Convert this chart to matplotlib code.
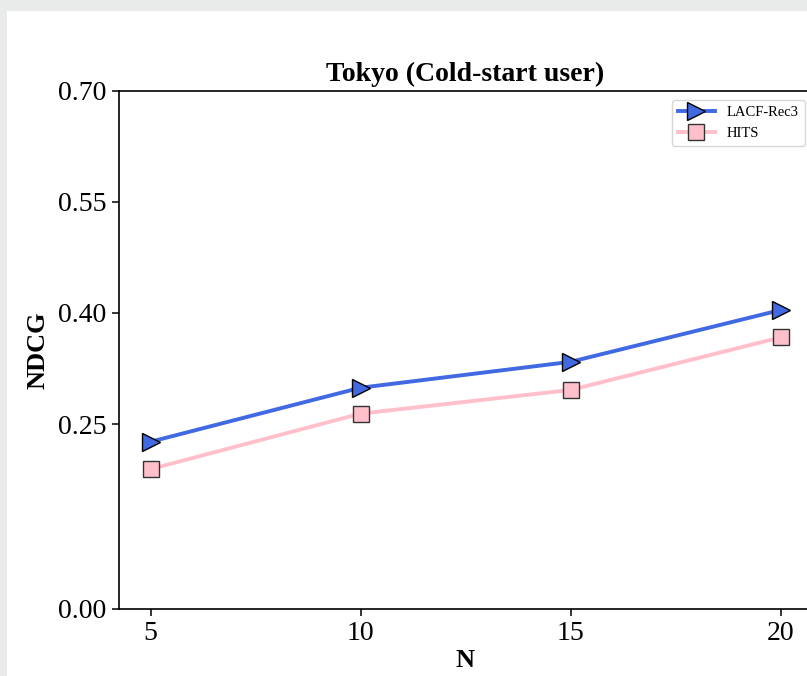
import matplotlib.pyplot as plt
from matplotlib.patches import Rectangle

N = [5, 10, 15, 20]
lacf = [0.226, 0.299, 0.334, 0.404]
hits = [0.189, 0.264, 0.296, 0.367]
yticks = [0.00, 0.25, 0.40, 0.55, 0.70]

plt.rcParams['font.family'] = ['Liberation Serif', 'DejaVu Serif']

fig = plt.figure(figsize=(8.07, 6.76), dpi=100, facecolor='#e9ebea')
# white page area of the screenshot
fig.patches.append(Rectangle((7 / 807, 0), 1, 1 - 11 / 676, transform=fig.transFigure,
                             facecolor='white', edgecolor='none', zorder=-10))

ax = fig.add_axes([119 / 807, (676 - 609) / 676, (812 - 119) / 807, (609 - 91) / 676])
ax.set_zorder(5)
ax.set_facecolor('white')
for s in ax.spines.values():
    s.set_linewidth(1.2)

ax.plot(N, lacf, color='royalblue', linewidth=2.8, marker='>', markersize=13,
        markerfacecolor='royalblue', markeredgecolor='black', markeredgewidth=1, label='LACF-Rec3')
ax.plot(N, hits, color='pink', linewidth=2.8, marker='s', markersize=12,
        markerfacecolor='pink', markeredgecolor='#333333', markeredgewidth=1, label='HITS')

ax.set_ylim(0, 0.70)
ax.set_xlim(4.25, 20.75)
ax.set_yticks(yticks)
ax.set_yticklabels(['%.2f' % t for t in yticks])
ax.set_xticks(N)
ax.tick_params(labelsize=20, length=5, pad=4, width=1.1)

ax.set_title('Tokyo (Cold-start user)', fontsize=20, fontweight='bold', pad=7)
ax.set_xlabel('N', fontsize=19, fontweight='bold', labelpad=2)
ax.set_ylabel('NDCG', fontsize=19, fontweight='bold', labelpad=6)

ax.legend(loc='upper right', bbox_to_anchor=(0.994, 0.988), fontsize=10.5, handlelength=2.6,
          labelspacing=0.5, borderaxespad=0.2)

fig.savefig('out.png', dpi=100, facecolor=fig.get_facecolor())
